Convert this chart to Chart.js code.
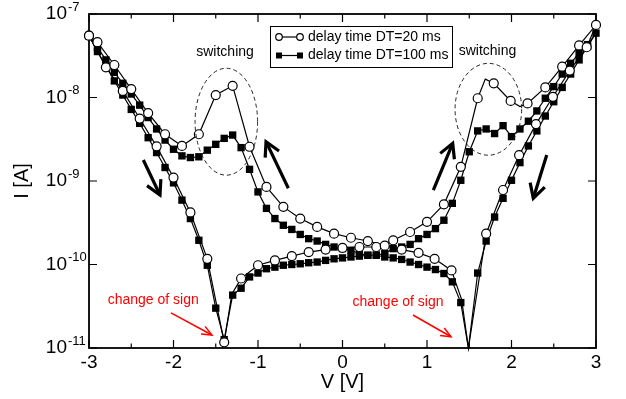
<!DOCTYPE html>
<html>
<head>
<meta charset="utf-8">
<script src="https://cdn.jsdelivr.net/npm/chart.js@4.4.1/dist/chart.umd.min.js"></script>
<style>
  html, body { margin: 0; padding: 0; background: #fff; }
  #wrap { width: 626px; height: 399px; }
</style>
</head>
<body>
<div id="wrap"><canvas id="ivCanvas" width="626" height="399"></canvas></div>
<script>
// I-V hysteresis loops. Forward sweep runs -3 V -> +3 V, return sweep +3 V -> -3 V.
const dt20ForwardV = [-3.0, -2.8, -2.6, -2.4, -2.2, -2.0, -1.8, -1.6, -1.4, -1.31, -1.2, -1.0, -0.8, -0.6, -0.4, -0.2, 0.0,
  0.2, 0.4, 0.6, 0.8, 1.0, 1.2, 1.4, 1.6, 1.69, 1.79, 1.99, 2.1, 2.19, 2.4, 2.6, 2.8, 3.0];
const dt20ForwardI = [5.5e-8, 2.3e-8, 1.2e-8, 5.6e-9, 2.6e-9, 1.1e-9, 4.2e-10, 1.17e-10, 1.17e-11, 4.4e-11, 6.8e-11, 9.8e-11, 1.12e-10, 1.26e-10, 1.41e-10, 1.51e-10, 1.58e-10,
  1.62e-10, 1.62e-10, 1.95e-10, 2.45e-10, 3.24e-10, 5.25e-10, 1.48e-9, 9.8e-9, 1.66e-8, 1.48e-8, 9.1e-9, 7.8e-9, 8.5e-9, 1.32e-8, 2.34e-8, 4.2e-8, 7.4e-8];

const dt20ReturnV = [2.89, 2.69, 2.49, 2.29, 2.09, 1.9, 1.7, 1.49, 1.41, 1.29, 1.09, 0.9, 0.7, 0.5, 0.3, 0.1,
  -0.1, -0.3, -0.5, -0.7, -0.9, -1.1, -1.3, -1.5, -1.7, -1.9, -2.1, -2.3, -2.5, -2.7, -2.9, -3.0];
const dt20ReturnI = [4.0e-8, 2.1e-8, 1.02e-8, 4.8e-9, 2.04e-9, 7.8e-10, 2.34e-10, 1.0e-11, 3.8e-11, 8.5e-11, 1.17e-10, 1.38e-10, 1.51e-10, 1.68e-10, 1.91e-10, 2.09e-10,
  2.34e-10, 2.82e-10, 3.55e-10, 4.9e-10, 8.5e-10, 2.57e-9, 1.38e-8, 1.07e-8, 3.63e-9, 2.63e-9, 3.63e-9, 6.5e-9, 1.26e-8, 2.45e-8, 4.6e-8, 5.5e-8];

const dt100ForwardV = [-3.0, -2.9, -2.8, -2.7, -2.6, -2.5, -2.4, -2.3, -2.2, -2.1, -2.0, -1.9, -1.8, -1.7, -1.6, -1.5, -1.4, -1.3, -1.2, -1.1,
  -1.0, -0.9, -0.8, -0.7, -0.6, -0.5, -0.4, -0.3, -0.2, -0.1, 0.0, 0.1, 0.2, 0.3, 0.4, 0.5, 0.6, 0.7, 0.8, 0.9,
  1.0, 1.1, 1.2, 1.3, 1.4, 1.5, 1.6, 1.7, 1.8, 1.9, 2.0, 2.1, 2.2, 2.3, 2.4, 2.5, 2.6, 2.7, 2.8, 2.9, 3.0];
const dt100ForwardI = [5.5e-8, 3.55e-8, 2.4e-8, 1.58e-8, 1.07e-8, 7.2e-9, 4.9e-9, 3.3e-9, 2.19e-9, 1.45e-9, 9.5e-10, 5.9e-10, 3.55e-10, 1.95e-10, 9.8e-11, 3.0e-11, 1.26e-11, 4.3e-11, 5.2e-11, 7.1e-11,
  7.9e-11, 8.9e-11, 9.3e-11, 9.8e-11, 1.0e-10, 1.02e-10, 1.05e-10, 1.07e-10, 1.12e-10, 1.17e-10, 1.2e-10, 1.23e-10, 1.26e-10, 1.29e-10, 1.3e-10, 1.35e-10, 1.55e-10, 1.62e-10, 1.74e-10, 2.04e-10,
  2.29e-10, 2.69e-10, 3.39e-10, 5.4e-10, 1.02e-9, 2.24e-9, 3.98e-9, 4.2e-9, 3.7e-9, 4.6e-9, 3.4e-9, 4.2e-9, 5.2e-9, 6.9e-9, 9.8e-9, 1.35e-8, 1.91e-8, 2.57e-8, 3.39e-8, 4.3e-8, 5.9e-8];

const dt100ReturnV = [2.9, 2.8, 2.7, 2.6, 2.5, 2.4, 2.3, 2.2, 2.1, 2.0, 1.9, 1.8, 1.7, 1.6, 1.49, 1.4, 1.3, 1.2, 1.1, 1.0,
  0.9, 0.8, 0.7, 0.6, 0.5, 0.4, 0.3, 0.2, 0.1, 0.0, -0.1, -0.2, -0.3, -0.4, -0.5, -0.6, -0.7, -0.8, -0.9, -1.0,
  -1.1, -1.2, -1.3, -1.4, -1.5, -1.6, -1.7, -1.8, -1.9, -2.0, -2.1, -2.2, -2.3, -2.4, -2.5, -2.6, -2.7, -2.8, -2.9, -3.0];
const dt100ReturnI = [4.1e-8, 2.82e-8, 1.91e-8, 1.32e-8, 8.9e-9, 6.0e-9, 3.98e-9, 2.63e-9, 1.66e-9, 1.02e-9, 6.2e-10, 3.7e-10, 1.91e-10, 7.9e-11, 1.0e-11, 3.5e-11, 6.2e-11, 7.8e-11, 8.7e-11, 9.3e-11,
  1.0e-10, 1.07e-10, 1.15e-10, 1.2e-10, 1.23e-10, 1.29e-10, 1.29e-10, 1.35e-10, 1.48e-10, 1.55e-10, 1.62e-10, 1.74e-10, 1.91e-10, 2.04e-10, 2.29e-10, 2.63e-10, 2.95e-10, 3.55e-10, 4.7e-10, 7.4e-10,
  1.38e-9, 2.51e-9, 3.55e-9, 3.24e-9, 2.75e-9, 2.34e-9, 1.95e-9, 1.91e-9, 2.0e-9, 2.4e-9, 3.09e-9, 4.2e-9, 5.75e-9, 8.1e-9, 1.1e-8, 1.48e-8, 2.0e-8, 2.82e-8, 3.98e-8, 5.5e-8];

const seriesLabels = ['delay time DT=20 ms', 'delay time DT=100 ms'];
const yDecades = [-11, -10, -9, -8, -7];

const FONT = '"Liberation Sans", Arial, Helvetica, sans-serif';
Chart.defaults.font.family = FONT;
Chart.defaults.color = '#000';

function zip(vs, is) {
  return vs.map((v, k) => ({ x: v, y: is[k] }));
}

// line vertices that carry no symbol
const bareDt20 = [-1.31, 1.41, 1.49, 1.69, 2.1];
const bareDt100 = [1.49];

const loop20 = zip(dt20ForwardV, dt20ForwardI).concat(zip(dt20ReturnV, dt20ReturnI));
const loop100 = zip(dt100ForwardV, dt100ForwardI).concat(zip(dt100ReturnV, dt100ReturnI));

function arrow(ctx, x1, y1, x2, y2, head, spread) {
  ctx.beginPath();
  ctx.moveTo(x1, y1);
  ctx.lineTo(x2, y2);
  ctx.stroke();
  const a = Math.atan2(y2 - y1, x2 - x1);
  ctx.beginPath();
  ctx.moveTo(x2 - head * Math.cos(a - spread), y2 - head * Math.sin(a - spread));
  ctx.lineTo(x2, y2);
  ctx.lineTo(x2 - head * Math.cos(a + spread), y2 - head * Math.sin(a + spread));
  ctx.stroke();
}

// box frame with inward ticks on all four sides
const frame = {
  id: 'frame',
  beforeDatasetsDraw(chart) {
    const { ctx, chartArea: { left, right, top, bottom } } = chart;
    const xs = chart.scales.x, ys = chart.scales.y;
    ctx.save();
    ctx.strokeStyle = '#000';
    ctx.lineWidth = 1.2;
    ctx.beginPath();
    for (let k = -6; k <= 6; k++) {
      const x = xs.getPixelForValue(k / 2);
      const len = k % 2 === 0 ? 8 : 4.5;
      ctx.moveTo(x, bottom); ctx.lineTo(x, bottom - len);
      ctx.moveTo(x, top); ctx.lineTo(x, top + len);
    }
    yDecades.forEach(d => {
      const y = ys.getPixelForValue(Math.pow(10, d));
      ctx.moveTo(left, y); ctx.lineTo(left + 8, y);
      ctx.moveTo(right, y); ctx.lineTo(right - 8, y);
    });
    ctx.stroke();
    ctx.lineWidth = 1.8;
    ctx.strokeRect(left, top, right - left, bottom - top);
    ctx.restore();
  },
  afterDraw(chart) {
    const { ctx, chartArea: { left } } = chart;
    const ys = chart.scales.y;
    ctx.save();
    ctx.fillStyle = '#000';
    ctx.textBaseline = 'middle';
    yDecades.forEach(d => {
      const y = ys.getPixelForValue(Math.pow(10, d));
      ctx.font = '19px ' + FONT;
      ctx.textAlign = 'right';
      ctx.fillText('10', left - 22, y);
      ctx.font = '13px ' + FONT;
      ctx.textAlign = 'left';
      ctx.fillText(String(d), left - 21, y - 7);
    });
    ctx.restore();
  }
};

// switching regions, sweep arrows, sign-change notes and the legend box
const notes = {
  id: 'notes',
  afterDatasetsDraw(chart) {
    const { ctx, chartArea } = chart;
    const xs = chart.scales.x, ys = chart.scales.y;
    const P = (v, lg) => [xs.getPixelForValue(v), ys.getPixelForValue(Math.pow(10, lg))];
    ctx.save();

    // dashed ellipses around the switching humps
    ctx.strokeStyle = '#222';
    ctx.lineWidth = 1;
    ctx.setLineDash([4, 3]);
    [[-1.375, -8.29, 0.37, 0.64], [1.726, -8.141, 0.394, 0.55]].forEach(([v, lg, dv, dl]) => {
      const [cx, cy] = P(v, lg);
      const rx = Math.abs(xs.getPixelForValue(v + dv) - cx);
      const ry = Math.abs(ys.getPixelForValue(Math.pow(10, lg + dl)) - cy);
      ctx.beginPath();
      ctx.ellipse(cx, cy, rx, ry, 0, 0, Math.PI * 2);
      ctx.stroke();
    });
    ctx.setLineDash([]);

    ctx.fillStyle = '#000';
    ctx.font = '14px ' + FONT;
    ctx.textAlign = 'center';
    ctx.textBaseline = 'middle';
    [[-1.39, -7.455], [1.716, -7.443]].forEach(([v, lg]) => {
      const [x, y] = P(v, lg);
      ctx.fillText('switching', x, y);
    });

    // sweep direction arrows
    ctx.strokeStyle = '#000';
    ctx.lineWidth = 3.2;
    ctx.lineCap = 'butt';
    ctx.lineJoin = 'miter';
    [[-2.357, -8.749, -2.16, -9.168], [-0.641, -9.087, -0.905, -8.529],
     [1.075, -9.108, 1.304, -8.549], [2.417, -8.689, 2.258, -9.207]].forEach(([v1, l1, v2, l2]) => {
      const [x1, y1] = P(v1, l1), [x2, y2] = P(v2, l2);
      arrow(ctx, x1, y1, x2, y2, 16, 0.5);
    });

    // sign change notes
    ctx.fillStyle = '#ff0000';
    ctx.strokeStyle = '#ff0000';
    ctx.lineWidth = 1.5;
    ctx.font = '14px ' + FONT;
    [[-2.24, -10.425, -2.03, -10.58, -1.545, -10.844], [0.657, -10.45, 0.834, -10.605, 1.284, -10.865]].forEach(([tv, tl, v1, l1, v2, l2]) => {
      const [tx, ty] = P(tv, tl);
      ctx.fillText('change of sign', tx, ty);
      const [x1, y1] = P(v1, l1), [x2, y2] = P(v2, l2);
      arrow(ctx, x1, y1, x2, y2, 11, 0.4);
    });

    // legend
    const bx = chartArea.left + 181, by = chartArea.top + 12, bw = 182, bh = 41;
    ctx.fillStyle = '#fff';
    ctx.fillRect(bx, by, bw, bh);
    ctx.strokeStyle = '#000';
    ctx.lineWidth = 1;
    ctx.strokeRect(bx + 0.5, by + 0.5, bw, bh);
    chart.data.datasets.forEach((ds, k) => {
      const y = by + 11 + k * 18.5;
      const xa = bx + 9, xb = bx + 30;
      ctx.strokeStyle = '#000';
      ctx.lineWidth = 1.2;
      ctx.beginPath(); ctx.moveTo(xa, y); ctx.lineTo(xb, y); ctx.stroke();
      [xa, xb].forEach(x => {
        ctx.beginPath();
        if (ds.pointStyle === 'circle') {
          ctx.arc(x, y, 3.3, 0, Math.PI * 2);
          ctx.fillStyle = '#fff';
          ctx.fill();
          ctx.stroke();
        } else {
          ctx.fillStyle = '#000';
          ctx.fillRect(x - 3, y - 3, 6, 6);
        }
      });
      ctx.fillStyle = '#000';
      ctx.font = '14px ' + FONT;
      ctx.textAlign = 'left';
      ctx.fillText(ds.label, bx + 38, y);
    });
    ctx.restore();
  }
};

new Chart(document.getElementById('ivCanvas').getContext('2d'), {
  type: 'scatter',
  data: {
    datasets: [{
      label: seriesLabels[0],
      data: loop20,
      showLine: true,
      borderColor: '#000',
      borderWidth: 1.2,
      pointStyle: 'circle',
      pointRadius: ctx => bareDt20.includes(ctx.raw.x) ? 0 : 4.5,
      pointBackgroundColor: '#fff',
      pointBorderColor: '#000',
      pointBorderWidth: 1.2,
      clip: false
    }, {
      label: seriesLabels[1],
      data: loop100,
      showLine: true,
      borderColor: '#000',
      borderWidth: 1.2,
      pointStyle: 'rect',
      pointRadius: ctx => bareDt100.includes(ctx.raw.x) ? 0 : 5.2,
      pointBackgroundColor: '#000',
      pointBorderColor: '#000',
      pointBorderWidth: 0,
      clip: false
    }]
  },
  options: {
    responsive: false,
    animation: false,
    layout: { padding: { top: 14, right: 30 } },
    plugins: {
      legend: { display: false },
      tooltip: { enabled: false }
    },
    scales: {
      x: {
        type: 'linear',
        min: -3,
        max: 3,
        ticks: { stepSize: 1, color: '#000', font: { size: 19 }, padding: 3 },
        grid: { display: false, drawTicks: false },
        border: { display: false },
        title: { display: true, text: 'V [V]', color: '#000', font: { size: 20 }, padding: { top: 0, bottom: 5 } },
        afterFit: s => { s.height = 51; }
      },
      y: {
        type: 'logarithmic',
        min: 1e-11,
        max: 1e-7,
        ticks: { display: false },
        grid: { display: false, drawTicks: false },
        border: { display: false },
        title: { display: true, text: 'I [A]', color: '#000', font: { size: 20 }, padding: { top: 10, bottom: 0 } },
        afterFit: s => { s.width = 89; }
      }
    }
  },
  plugins: [frame, notes]
});
</script>
</body>
</html>
